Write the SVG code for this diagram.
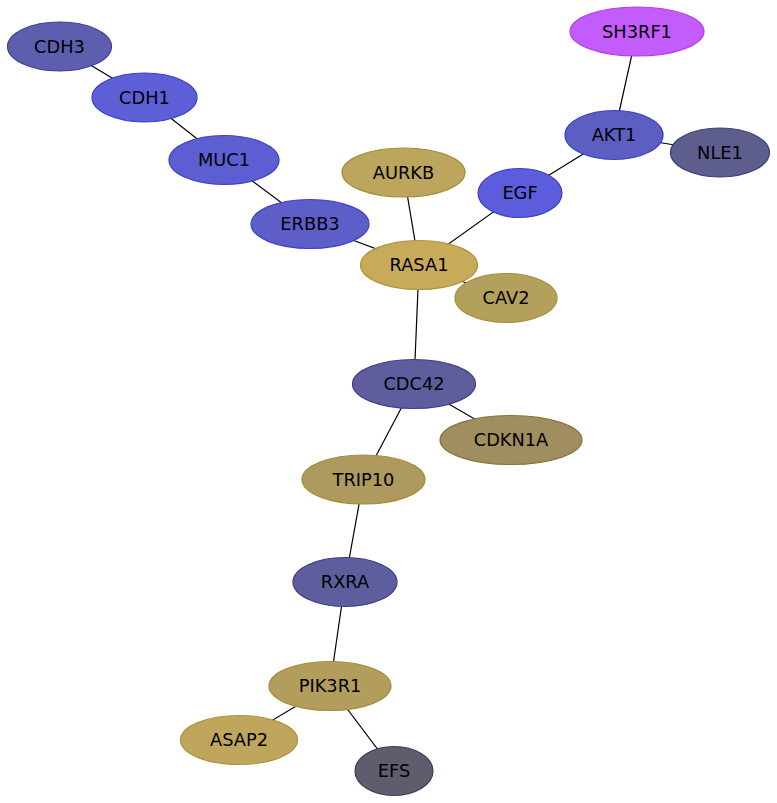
<svg xmlns="http://www.w3.org/2000/svg" width="777" height="803" viewBox="0 0 777 803">
<style>
.e line{stroke:#000;stroke-width:1.2}
.n ellipse{stroke-width:1.2}
.n text{font-family:"DejaVu Sans",sans-serif;font-size:17.8px;fill:#000;text-anchor:middle}
.b1{fill:#5d5fd6;stroke:#3c3ecc}
.b2{fill:#5d5fae;stroke:#3d3f9a}
.b3{fill:#5e5e9e;stroke:#3e3e88}
.b4{fill:#5e5e8e;stroke:#3e3e78}
.g1{fill:#c8aa5b;stroke:#b0913a}
.g2{fill:#b9a25d;stroke:#a58c3c}
.g3{fill:#a08e5e;stroke:#86723c}
</style>
<rect width="777" height="803" fill="#fff"/>
<g id="edges" class="e">
<line x1="59.5" y1="46.5" x2="144.5" y2="97.5"/>
<line x1="144.5" y1="97.5" x2="224" y2="160"/>
<line x1="224" y1="160" x2="310" y2="224"/>
<line x1="310" y1="224" x2="419" y2="265"/>
<line x1="403.5" y1="172.5" x2="419" y2="265"/>
<line x1="419" y1="265" x2="520" y2="193"/>
<line x1="520" y1="193" x2="614" y2="135"/>
<line x1="614" y1="135" x2="637" y2="31.5"/>
<line x1="614" y1="135" x2="720" y2="152.5"/>
<line x1="419" y1="265" x2="506" y2="298"/>
<line x1="419" y1="265" x2="414" y2="384"/>
<line x1="414" y1="384" x2="511" y2="440"/>
<line x1="414" y1="384" x2="363.5" y2="479.5"/>
<line x1="363.5" y1="479.5" x2="345" y2="582"/>
<line x1="345" y1="582" x2="330" y2="686"/>
<line x1="330" y1="686" x2="239" y2="740"/>
<line x1="330" y1="686" x2="394" y2="771"/>
</g>
<g id="CDH3" class="n"><ellipse class="b2" cx="59.5" cy="46.5" rx="52" ry="24.5"/><text x="59.5" y="52.5">CDH3</text></g>
<g id="CDH1" class="n"><ellipse class="b1" cx="144.5" cy="97.5" rx="52.5" ry="24.5"/><text x="144.5" y="103.5">CDH1</text></g>
<g id="MUC1" class="n"><ellipse class="b1" cx="224" cy="160" rx="55" ry="24.5" style="fill:#5d5ed2"/><text x="224" y="166">MUC1</text></g>
<g id="ERBB3" class="n"><ellipse class="b1" cx="310" cy="224" rx="59" ry="24.5" style="fill:#5d5ec8"/><text x="310" y="230">ERBB3</text></g>
<g id="SH3RF1" class="n"><ellipse cx="637" cy="31.5" rx="67" ry="24.5" style="fill:#c45cfc;stroke:#b040ee"/><text x="637" y="37.5">SH3RF1</text></g>
<g id="AKT1" class="n"><ellipse class="b1" cx="614" cy="135" rx="49" ry="24.5" style="fill:#5d5ec2"/><text x="614" y="141">AKT1</text></g>
<g id="NLE1" class="n"><ellipse class="b4" cx="720" cy="152.5" rx="49.5" ry="24.5"/><text x="720" y="158.5">NLE1</text></g>
<g id="AURKB" class="n"><ellipse class="g2" cx="403.5" cy="172.5" rx="61.5" ry="24.5" style="fill:#bca55d"/><text x="403.5" y="178.5">AURKB</text></g>
<g id="EGF" class="n"><ellipse class="b1" cx="520" cy="193" rx="42" ry="24.5" style="fill:#5c5ddc"/><text x="520" y="199">EGF</text></g>
<g id="RASA1" class="n"><ellipse class="g1" cx="419" cy="265" rx="58.5" ry="24.5"/><text x="419" y="271">RASA1</text></g>
<g id="CAV2" class="n"><ellipse class="g2" cx="506" cy="298" rx="51" ry="24.5" style="fill:#b4a05d"/><text x="506" y="304">CAV2</text></g>
<g id="CDC42" class="n"><ellipse class="b3" cx="414" cy="384" rx="61.5" ry="24.5"/><text x="414" y="390">CDC42</text></g>
<g id="CDKN1A" class="n"><ellipse class="g3" cx="511" cy="440" rx="71" ry="24.5"/><text x="511" y="446">CDKN1A</text></g>
<g id="TRIP10" class="n"><ellipse class="g2" cx="363.5" cy="479.5" rx="61.5" ry="24.5" style="fill:#ae9a5e"/><text x="363.5" y="485.5">TRIP10</text></g>
<g id="RXRA" class="n"><ellipse class="b3" cx="345" cy="582" rx="52" ry="24.5"/><text x="345" y="588">RXRA</text></g>
<g id="PIK3R1" class="n"><ellipse class="g2" cx="330" cy="686" rx="61" ry="24.5" style="fill:#b29d5d"/><text x="330" y="692">PIK3R1</text></g>
<g id="ASAP2" class="n"><ellipse class="g1" cx="239" cy="740" rx="58.5" ry="24.5" style="fill:#c0a65c"/><text x="239" y="746">ASAP2</text></g>
<g id="EFS" class="n"><ellipse cx="394" cy="771" rx="39" ry="24.5" style="fill:#5e5d6e;stroke:#3e3d58"/><text x="394" y="777">EFS</text></g>
</svg>
